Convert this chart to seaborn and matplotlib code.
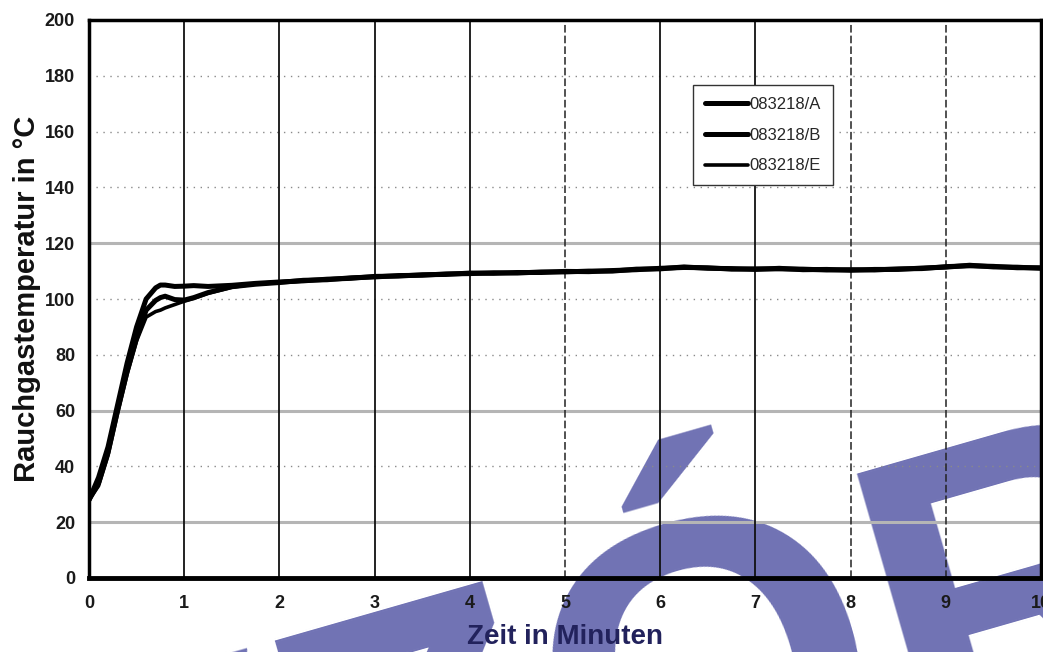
import matplotlib
matplotlib.use("Agg")
import matplotlib.pyplot as plt
import seaborn as sns
import pandas as pd
from matplotlib.lines import Line2D

# Zeitachse (Minuten) und Rauchgastemperaturen (°C)
zeit = [0, 0.1, 0.2, 0.3, 0.4, 0.5, 0.6, 0.7, 0.75, 0.8, 0.9, 1.0, 1.1, 1.25,
        1.5, 1.75, 2.0, 2.25, 2.5, 2.75, 3.0, 3.25, 3.5, 3.75, 4.0, 4.25, 4.5,
        4.75, 5.0, 5.25, 5.5, 5.75, 6.0, 6.25, 6.5, 6.75, 7.0, 7.25, 7.5, 7.75,
        8.0, 8.25, 8.5, 8.75, 9.0, 9.25, 9.5, 9.75, 10.0]

temp_a = [28, 36, 47, 62, 77, 90, 100, 104, 105, 105, 104.5, 104.6, 104.8, 104.5,
          104.9, 105.6, 106.1, 106.5, 107.1, 107.4, 108.1, 108.2, 108.7, 108.8, 109.3, 109.2, 109.5,
          109.5, 109.9, 109.8, 110.2, 110.5, 111.0, 111.3, 111.2, 110.7, 110.8, 110.8, 110.7, 110.4,
          110.5, 110.4, 110.8, 110.9, 111.6, 111.9, 111.7, 111.2, 111.2]
temp_b = [28, 34, 45, 60, 74, 86, 96, 99.5, 100.5, 101, 99.8, 99.6, 100.5, 102.3,
          104.4, 105.3, 105.9, 106.7, 106.9, 107.6, 107.9, 108.4, 108.5, 109.0, 109.1, 109.4, 109.3,
          109.7, 109.7, 110.0, 110.0, 110.7, 110.8, 111.5, 111.0, 110.9, 110.6, 111.0, 110.5, 110.6,
          110.3, 110.6, 110.6, 111.1, 111.4, 112.1, 111.5, 111.4, 111.0]
temp_e = [28, 33, 44, 59, 73, 85, 93.5, 95.5, 96, 96.8, 98, 99.2, 100.2, 102,
          104.2, 105.4, 106.0, 106.5, 107.0, 107.5, 108.0, 108.3, 108.6, 108.9, 109.2, 109.3, 109.4,
          109.6, 109.8, 109.9, 110.1, 110.6, 110.9, 111.4, 111.1, 110.8, 110.7, 110.9, 110.6, 110.5,
          110.4, 110.5, 110.7, 111.0, 111.5, 112.0, 111.6, 111.3, 111.1]

serien = ["083218/A", "083218/B", "083218/E"]
breiten = [3.6, 3.6, 2.6]

x_ticks = list(range(0, 11))
y_ticks = list(range(0, 201, 20))
y_grau = [20, 60, 120]          # kraeftigere graue Linien
x_gestrichelt = [5, 8, 9]

df = pd.DataFrame({
    "Zeit": zeit * 3,
    "Temp": temp_a + temp_b + temp_e,
    "Serie": [serien[0]] * len(zeit) + [serien[1]] * len(zeit) + [serien[2]] * len(zeit),
})

sns.set_style("white")
plt.rcParams["font.family"] = ["Liberation Sans", "DejaVu Sans"]

fig = plt.figure(figsize=(10.43, 6.52), dpi=100, facecolor="white")
ax = fig.add_axes([89 / 1043, 1 - 578 / 652, (1041 - 89) / 1043, (578 - 20) / 652])
ax.patch.set_alpha(0)

# Wasserzeichen "WZÓR" hinter dem Diagramm
fig.text(-66 / 1043, -398 / 652, "WZÓR", fontsize=314, fontweight="bold",
         color="#7072b4", rotation=16, rotation_mode="anchor",
         ha="left", va="baseline", zorder=-5)

# Gitter
for y in y_ticks[1:-1]:
    if y in y_grau:
        ax.axhline(y, color="#b5b5b5", lw=2.2, zorder=1)
    else:
        ax.axhline(y, color="#8a8a8a", lw=1.0, ls=(0, (1, 4)), zorder=1)
for x in x_ticks[1:-1]:
    if x in x_gestrichelt:
        ax.axvline(x, color="#222222", lw=1.1, ls=(0, (5, 2)), zorder=1)
    else:
        ax.axvline(x, color="#111111", lw=1.3, zorder=1)

for serie, lw in zip(serien, breiten):
    sns.lineplot(data=df[df["Serie"] == serie], x="Zeit", y="Temp", ax=ax,
                 color="black", lw=lw, zorder=3, legend=False)

ax.set_xlim(0, 10)
ax.set_ylim(0, 200)
ax.set_xticks(x_ticks)
ax.set_yticks(y_ticks)
ax.tick_params(axis="both", length=0, labelsize=13, labelcolor="#1a1a1a")
ax.tick_params(axis="x", pad=12)
ax.tick_params(axis="y", pad=10)
for lab in ax.get_xticklabels() + ax.get_yticklabels():
    lab.set_fontweight("bold")

for s in ax.spines.values():
    s.set_color("black")
    s.set_linewidth(2.5)
ax.spines["bottom"].set_linewidth(3.5)

ax.set_xlabel("Zeit in Minuten", fontsize=20, fontweight="bold", color="#22225c", labelpad=9)
ax.set_ylabel("Rauchgastemperatur in °C", fontsize=21, fontweight="bold", color="#111111", labelpad=3)

handles = [Line2D([], [], color="black", lw=lw) for lw in breiten]
leg = ax.legend(handles, serien, loc="upper left", bbox_to_anchor=((693 - 89) / 952, (578 - 85) / 558),
                fontsize=12, frameon=True, fancybox=False, framealpha=1, edgecolor="#333333",
                handlelength=2.6, handletextpad=0.1, labelspacing=0.95, borderpad=0.7, borderaxespad=0)
leg.get_frame().set_linewidth(1.0)
leg.set_zorder(5)

fig.savefig("out.png", dpi=100, facecolor="white")
